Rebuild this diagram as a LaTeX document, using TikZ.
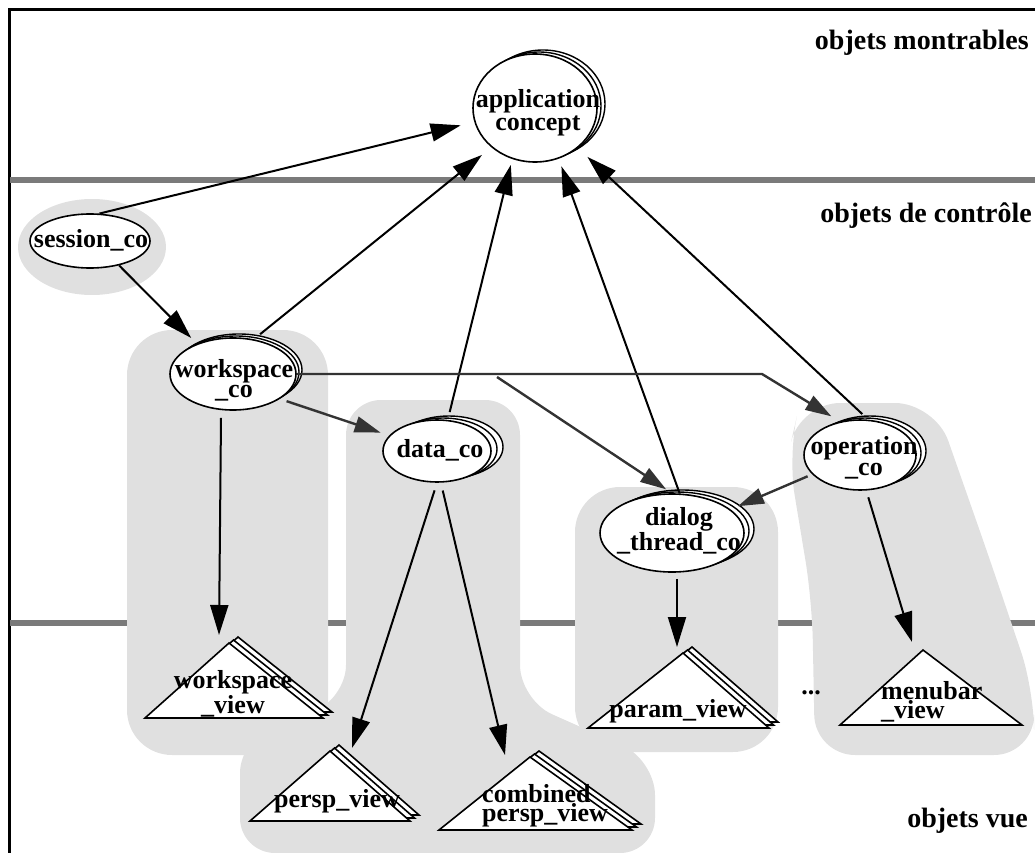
\documentclass[tikz,border=0pt]{standalone}
\usepackage{fontspec}
\setmainfont{Liberation Serif}
\usetikzlibrary{shapes.geometric,shadows,arrows.meta}

% a stack of three view triangles (two copies behind, offset up-right)
\newcommand\viewstack[4]{%
  \foreach \k in {2,1}{\draw[tri,shift={({4.5*\k},{-3*\k})}] #2 -- #3 -- #4 -- cycle;}
  \draw[tri] #2 -- #3 -- #4 -- cycle;
  \coordinate (#1) at #2;}

\begin{document}
\begin{tikzpicture}[x=1pt,y=-1pt,
  halo/.style={fill=black!12},
  sep/.style={line width=5.5pt, black!52},
  obj/.style={ellipse, draw, line width=1.6pt, fill=white, inner sep=0pt},
  stacked/.style={double copy shadow={shadow xshift=#1, shadow yshift=2pt,
      fill=white, draw=black, line width=1.4pt}},
  lbl/.style={font=\fontsize{26}{20}\selectfont\bfseries, align=center, inner sep=0pt},
  layer/.style={font=\fontsize{28}{30}\selectfont\bfseries, anchor=base east, inner sep=0pt},
  tri/.style={draw, line width=1.6pt, fill=white, line join=miter},
  link/.style={line width=2pt, -{Triangle[length=30pt,width=18pt]}},
  ref/.style={line width=2.4pt, black!80, -{Triangle[length=26pt,width=16pt]}},
]
\useasboundingbox (0,0) rectangle (1035,853);

% frame
\draw[line width=3pt] (9,853) -- (9,10) -- (1035,10);

% layer separators
\draw[sep] (10,180) -- (1035,180);
\draw[sep] (10,623) -- (1035,623);

% shaded groups
\fill[halo] (92,247) ellipse [x radius=74, y radius=48];
\fill[halo, rounded corners=45pt] (127,330) rectangle (328,755);
\fill[halo, rounded corners=35pt] (346,400) -- (520,400) -- (520,700) -- (655,760)
   -- (655,853) -- (240,853) -- (240,738) -- (346,700) -- cycle;
\fill[halo, rounded corners=45pt] (575,487) rectangle (778,752);
\fill[halo, rounded corners=40pt] (800,403) -- (935,403) -- (990,560) -- (1034,690)
   -- (1034,755) -- (815,755) -- (812,600) -- (788,455) -- cycle;

% control objects
\node[obj, stacked=4pt, minimum width=124pt, minimum height=108pt] (app) at (535,108) {};
\node[lbl, font=\fontsize{26}{23}\selectfont\bfseries] (app-t) at (538,113) {application\\concept};
\node[obj, minimum width=120pt, minimum height=54pt] (session) at (90,241) {};
\node[lbl] (session-t) at (91,240) {session\_co};
\node[obj, stacked=3pt, minimum width=126pt, minimum height=72pt] (ws) at (233,374) {};
\node[lbl] (ws-t) at (234,380) {workspace\\\_co};
\node[obj, stacked=6pt, minimum width=108pt, minimum height=62pt] (data) at (437,451) {};
\node[lbl] (data-t) at (440,450) {data\_co};
\node[obj, stacked=5pt, minimum width=112pt, minimum height=70pt] (op) at (860,455) {};
\node[lbl, font=\fontsize{26}{21}\selectfont\bfseries] (op-t) at (864,458) {operation\\\_co};
\node[obj, stacked=5pt, minimum width=144pt, minimum height=78pt] (dlg) at (672,533) {};
\node[lbl] (dlg-t) at (679,531) {dialog\\\_thread\_co};

% view objects
\viewstack{wsv}{(229,643)}{(145,718)}{(323,718)}
\node[lbl, font=\fontsize{26}{18}\selectfont\bfseries] (wsv-t) at (233,694) {workspace\\\_view};
\viewstack{persp}{(330,751)}{(250,821)}{(410,821)}
\node[lbl] (persp-t) at (337,801) {persp\_view};
\viewstack{comb}{(530,757)}{(439,830)}{(632,830)}
\node[lbl, font=\fontsize{26}{18}\selectfont\bfseries, align=left, anchor=west] (comb-t) at (482,806) {combined\\persp\_view};
\viewstack{param}{(683,653)}{(588,728)}{(769,728)}
\node[lbl] (param-t) at (678,711) {param\_view};
\draw[tri] (923,650) -- (840,725) -- (1022,725) -- cycle;
\coordinate (menu) at (923,650);
\node[lbl, font=\fontsize{26}{19}\selectfont\bfseries, align=left, anchor=west] (menu-t) at (881,702) {menubar\\\_view};
\node[lbl] (dots) at (811,693) {...};

% layer names
\node[layer] (l1) at (1029,50) {objets montrables};
\node[layer] (l2) at (1032,222) {objets de contrôle};
\node[layer] (l3) at (1028,827) {objets vue};

% connectors to the application concept
\draw[link, shorten >=14pt] (session.71) -- (app.193);
\draw[link, shorten <=8pt, shorten >=12pt] (ws.59) -- (app.222);
\draw[link, shorten <=8pt, shorten >=6pt] (data.71) -- (app.246);
\draw[link, shorten >=8pt] (dlg.79) -- (app.295);
\draw[link, shorten <=8pt, shorten >=13pt] (op.77) -- (app.317);

% control flow
\draw[link, shorten >=8pt] (session.-40) -- (ws.140);
\coordinate (wsbend) at (762,372);
\coordinate (wsbranch) at (497,377);
\draw[ref, shorten >=10pt] (ws.east) -- (ws.east -| wsbend) -- (op.121);
\draw[ref, shorten >=7pt] (wsbranch) -- (dlg.90);
\draw[ref, shorten <=7pt, shorten >=9pt] (ws.-28) -- (data.162);
\draw[ref, shorten <=5pt, shorten >=8pt] (op.202) -- (dlg.22);

% controls to their views
\draw[link] ([xshift=-12pt,yshift=-7pt]ws.south) -- ([xshift=-10pt,yshift=8pt]wsv);
\draw[link, shorten <=8pt] (data.-90) -- ([xshift=22pt,yshift=3pt]persp);
\draw[link, shorten <=8pt] (data.-83) -- ([xshift=-25pt,yshift=2pt]comb);
\draw[link, shorten <=6pt] ([xshift=5pt]dlg.south) -- ([xshift=-6pt,yshift=6pt]param);
\draw[link, shorten <=7pt] (op.-80) -- ([xshift=-11pt,yshift=8pt]menu);
\end{tikzpicture}
\end{document}
